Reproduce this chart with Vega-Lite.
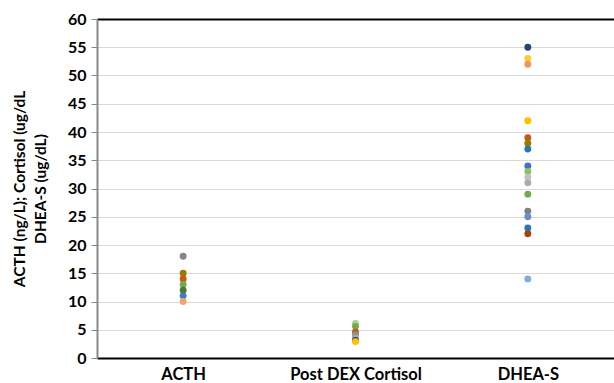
{
  "$schema": "https://vega.github.io/schema/vega-lite/v6.json",
  "width": 517,
  "height": 339,
  "autosize": {"type": "none"},
  "padding": {"left": 97, "top": 19, "right": 0, "bottom": 25},
  "background": "white",
  "config": {
    "view": {"stroke": null},
    "font": "Lato",
    "axis": {"labelFont": "Lato", "titleFont": "Lato", "labelFontWeight": "bold", "titleFontWeight": "bold", "labelColor": "#000", "titleColor": "#000", "labelFontSize": 16, "titleFontSize": 15.5}
  },
  "data": {
    "values": [
      {"test": "ACTH", "value": 18, "id": "a1"},
      {"test": "ACTH", "value": 15, "id": "a2"},
      {"test": "ACTH", "value": 14, "id": "a3"},
      {"test": "ACTH", "value": 13, "id": "a4"},
      {"test": "ACTH", "value": 12, "id": "a5"},
      {"test": "ACTH", "value": 11, "id": "a6"},
      {"test": "ACTH", "value": 10, "id": "a7"},
      {"test": "Post DEX Cortisol", "value": 6.1, "id": "c1"},
      {"test": "Post DEX Cortisol", "value": 5.6, "id": "c2"},
      {"test": "Post DEX Cortisol", "value": 4.6, "id": "c3"},
      {"test": "Post DEX Cortisol", "value": 4.1, "id": "c4"},
      {"test": "Post DEX Cortisol", "value": 3.6, "id": "c5"},
      {"test": "Post DEX Cortisol", "value": 3.1, "id": "c6"},
      {"test": "Post DEX Cortisol", "value": 2.9, "id": "c7"},
      {"test": "DHEA-S", "value": 55, "id": "d1"},
      {"test": "DHEA-S", "value": 53, "id": "d2"},
      {"test": "DHEA-S", "value": 52, "id": "d3"},
      {"test": "DHEA-S", "value": 42, "id": "d4"},
      {"test": "DHEA-S", "value": 39, "id": "d5"},
      {"test": "DHEA-S", "value": 38, "id": "d6"},
      {"test": "DHEA-S", "value": 37, "id": "d7"},
      {"test": "DHEA-S", "value": 34, "id": "d8"},
      {"test": "DHEA-S", "value": 33, "id": "d9"},
      {"test": "DHEA-S", "value": 32, "id": "d10"},
      {"test": "DHEA-S", "value": 31, "id": "d11"},
      {"test": "DHEA-S", "value": 29, "id": "d12"},
      {"test": "DHEA-S", "value": 26, "id": "d13"},
      {"test": "DHEA-S", "value": 25, "id": "d14"},
      {"test": "DHEA-S", "value": 23, "id": "d15"},
      {"test": "DHEA-S", "value": 22, "id": "d16"},
      {"test": "DHEA-S", "value": 14, "id": "d17"}
    ]
  },
  "mark": {"type": "point", "filled": true, "opacity": 1, "size": 48},
  "encoding": {
    "x": {
      "field": "test", "type": "nominal", "sort": ["ACTH", "Post DEX Cortisol", "DHEA-S"],
      "scale": {"paddingInner": 0, "paddingOuter": 0},
      "axis": {"title": null, "labelAngle": 0, "ticks": false, "domainColor": "#000", "domainWidth": 2, "labelPadding": 8, "labelFontSize": 16.5, "grid": false}
    },
    "y": {
      "field": "value", "type": "quantitative",
      "scale": {"domain": [0, 60], "nice": false},
      "axis": {
        "values": [0, 5, 10, 15, 20, 25, 30, 35, 40, 45, 50, 55, 60],
        "title": ["ACTH (ng/L); Cortisol (ug/dL", "DHEA-S (ug/dL)"],
        "titleLineHeight": 21,
        "titlePadding": 19,
        "tickSize": 6,
        "tickColor": "#888",
        "domainColor": "#888",
        "domainWidth": 2,
        "labelPadding": 5,
        "gridColor": {"condition": {"test": "datum.value === 60", "value": "#000"}, "value": "#D9D9D9"},
        "gridWidth": {"condition": {"test": "datum.value === 60", "value": 2}, "value": 1}
      }
    },
    "color": {
      "field": "id", "type": "nominal", "legend": null,
      "scale": {
        "domain": ["a1","a2","a3","a4","a5","a6","a7","c1","c2","c3","c4","c5","c6","c7","d1","d2","d3","d4","d5","d6","d7","d8","d9","d10","d11","d12","d13","d14","d15","d16","d17"],
        "range": ["#868686","#9C7A00","#C55A11","#70AD47","#4E7A2E","#3A7DC8","#F4A46E","#A9D18E","#70AD47","#C55A11","#8C8C8C","#A5A5A5","#264478","#FFC000","#264478","#FFCC33","#F1975A","#FFC000","#C55A11","#9C7A00","#2E75B6","#4472C4","#8CC168","#C0C0C0","#ABABAB","#70AD47","#7F7F7F","#698ED0","#2E75B6","#9E480E","#7CAFDD"]
      }
    }
  }
}
